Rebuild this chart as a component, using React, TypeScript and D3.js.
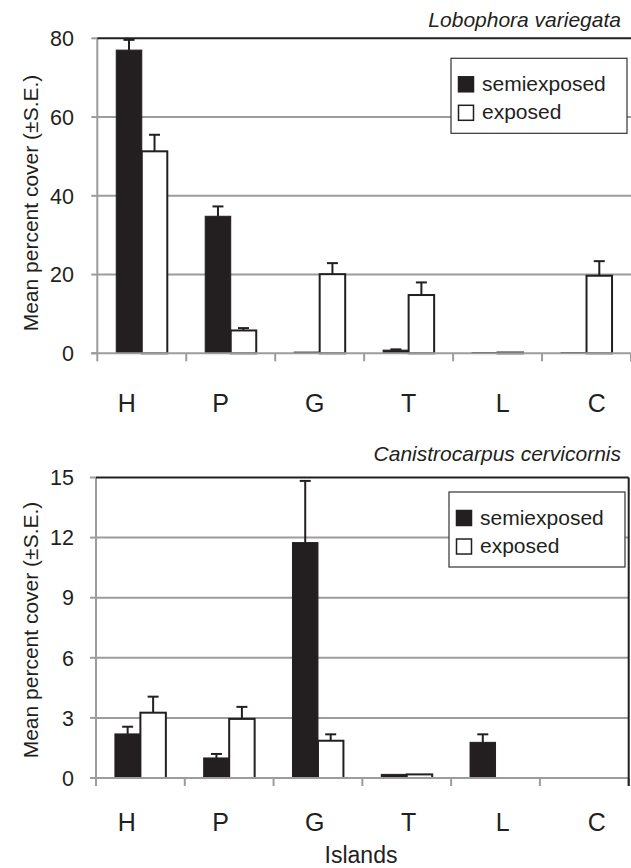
import React from "react";
import * as d3 from "d3";

const islands = ["H", "P", "G", "T", "L", "C"];
const seriesNames = ["semiexposed", "exposed"];

const lobSemi = [77.0, 34.8, 0.3, 0.8, 0.2, 0.2];
const lobSemiSE = [2.6, 2.5, 0, 0.2, 0, 0];
const lobExp = [51.3, 5.8, 20.1, 14.8, 0.2, 19.7];
const lobExpSE = [4.2, 0.6, 2.8, 3.2, 0, 3.7];
const lobTicks = [0, 20, 40, 60, 80];

const cerSemi = [2.2, 1.0, 11.75, 0.18, 1.78, 0];
const cerSemiSE = [0.36, 0.2, 3.08, 0, 0.4, 0];
const cerExp = [3.26, 2.95, 1.86, 0.18, 0, 0];
const cerExpSE = [0.8, 0.6, 0.32, 0, 0, 0];
const cerTicks = [0, 3, 6, 9, 12, 15];

const DARK = "#231f20";
const GRID = "#9c9c9c";
const FONT = "'Liberation Sans', Arial, Helvetica, sans-serif";

type PanelProps = {
  title: string;
  titleY: number;
  semi: number[];
  semiSE: number[];
  exp: number[];
  expSE: number[];
  ticks: number[];
  left: number;
  right: number;
  top: number;
  bottom: number;
  labelY: number;
  yTitleY: number;
  legendX: number;
  legendY: number;
  rightBorder: boolean;
};

function Panel(p: PanelProps) {
  const yMax = p.ticks[p.ticks.length - 1];
  const y = d3.scaleLinear().domain([0, yMax]).range([p.bottom, p.top]);
  const x0 = d3.scaleBand<string>().domain(islands).range([p.left, p.right]).padding(0);
  const x1 = d3
    .scaleBand<string>()
    .domain(seriesNames)
    .range([0, x0.bandwidth()])
    .paddingInner(0)
    .paddingOuter(0.743);
  const xl = d3.scalePoint<string>().domain(islands).range([126.7, 596.7]);
  const capW = 11;

  const bars: React.ReactNode[] = [];
  const errs: React.ReactNode[] = [];
  islands.forEach((isl, i) => {
    const vals = [p.semi[i], p.exp[i]];
    const ses = [p.semiSE[i], p.expSE[i]];
    seriesNames.forEach((s, j) => {
      const v = vals[j];
      if (v <= 0) return;
      const bx = (x0(isl) as number) + (x1(s) as number);
      const bw = x1.bandwidth();
      const yt = y(v);
      bars.push(
        <rect
          key={`b-${isl}-${s}`}
          x={bx}
          y={yt}
          width={bw}
          height={Math.max(0.5, p.bottom - yt)}
          fill={j === 0 ? DARK : "#fff"}
          stroke={DARK}
          strokeWidth={j === 0 ? 1 : 2}
        />
      );
      const se = ses[j];
      if (se > 0) {
        const cx = bx + bw / 2;
        const ye = y(v + se);
        errs.push(
          <g key={`e-${isl}-${s}`} stroke={DARK} strokeWidth={2}>
            <line x1={cx} x2={cx} y1={yt} y2={ye} />
            <line x1={cx - capW / 2} x2={cx + capW / 2} y1={ye} y2={ye} />
          </g>
        );
      }
    });
  });

  const boundaries = islands.map((d) => x0(d) as number).concat([p.right]);

  return (
    <g>
      {p.ticks
        .filter((t) => t > 0 && t < yMax)
        .map((t) => (
          <line key={`g${t}`} x1={p.left} x2={p.right} y1={y(t)} y2={y(t)} stroke={GRID} strokeWidth={2} />
        ))}
      {bars}
      {errs}
      <line x1={p.left} x2={p.left} y1={p.top} y2={p.bottom} stroke={GRID} strokeWidth={2} />
      {p.ticks.map((t) => (
        <g key={`yt${t}`}>
          <line x1={p.left - 6} x2={p.left} y1={y(t)} y2={y(t)} stroke={GRID} strokeWidth={2} />
          <text
            x={74}
            y={y(t)}
            dy="0.36em"
            textAnchor="end"
            fontSize={21.5}
            fontFamily={FONT}
            fill={DARK}
          >
            {t}
          </text>
        </g>
      ))}
      <line x1={p.left - 6} x2={p.right} y1={p.bottom} y2={p.bottom} stroke={GRID} strokeWidth={2} />
      {boundaries.map((bx, i) => (
        <line key={`xt${i}`} x1={bx} x2={bx} y1={p.bottom} y2={p.bottom + 8} stroke={GRID} strokeWidth={2} />
      ))}
      <line x1={p.left} x2={p.right} y1={p.top} y2={p.top} stroke={DARK} strokeWidth={2} />
      {p.rightBorder && (
        <line x1={p.right} x2={p.right} y1={p.top} y2={p.bottom + 8} stroke={DARK} strokeWidth={2} />
      )}
      {islands.map((isl) => (
        <text
          key={`l${isl}`}
          x={xl(isl) as number}
          y={p.labelY}
          textAnchor="middle"
          fontSize={25}
          fontFamily={FONT}
          fill={DARK}
        >
          {isl}
        </text>
      ))}
      <text
        transform={`translate(38,${p.yTitleY}) rotate(-90)`}
        textAnchor="middle"
        fontSize={21}
        fontFamily={FONT}
        fill={DARK}
      >
        Mean percent cover (±S.E.)
      </text>
      <text
        x={621}
        y={p.titleY}
        textAnchor="end"
        fontSize={21}
        fontStyle="italic"
        fontFamily={FONT}
        fill={DARK}
      >
        {p.title}
      </text>
      <g>
        <rect
          x={p.legendX}
          y={p.legendY}
          width={176}
          height={75}
          fill="#fff"
          stroke="#333"
          strokeWidth={1.2}
        />
        {seriesNames.map((s, j) => (
          <g key={`lg${s}`}>
            <rect
              x={p.legendX + 7.5}
              y={p.legendY + 18.5 + j * 28.5}
              width={15}
              height={15}
              fill={j === 0 ? DARK : "#fff"}
              stroke={DARK}
              strokeWidth={1.5}
            />
            <text
              x={p.legendX + 31}
              y={p.legendY + 32.5 + j * 28.5}
              fontSize={21}
              fontFamily={FONT}
              fill={DARK}
            >
              {s}
            </text>
          </g>
        ))}
      </g>
    </g>
  );
}

export default function App() {
  return (
    <svg
      width={631}
      height={868}
      style={{ position: "absolute", left: 0, top: 0, background: "#fff" }}
    >
      <rect x={0} y={0} width={631} height={868} fill="#fff" />
      <Panel
        title="Lobophora variegata"
        titleY={27}
        semi={lobSemi}
        semiSE={lobSemiSE}
        exp={lobExp}
        expSE={lobExpSE}
        ticks={lobTicks}
        left={97.3}
        right={631}
        top={38.3}
        bottom={353.3}
        labelY={411.7}
        yTitleY={203}
        legendX={451}
        legendY={58.3}
        rightBorder={false}
      />
      <Panel
        title="Canistrocarpus cervicornis"
        titleY={461}
        semi={cerSemi}
        semiSE={cerSemiSE}
        exp={cerExp}
        expSE={cerExpSE}
        ticks={cerTicks}
        left={96}
        right={628.7}
        top={477.5}
        bottom={778}
        labelY={830.7}
        yTitleY={630}
        legendX={449}
        legendY={492}
        rightBorder={true}
      />
      <text
        x={361}
        y={863}
        textAnchor="middle"
        fontSize={23}
        fontFamily={FONT}
        fill={DARK}
      >
        Islands
      </text>
    </svg>
  );
}
